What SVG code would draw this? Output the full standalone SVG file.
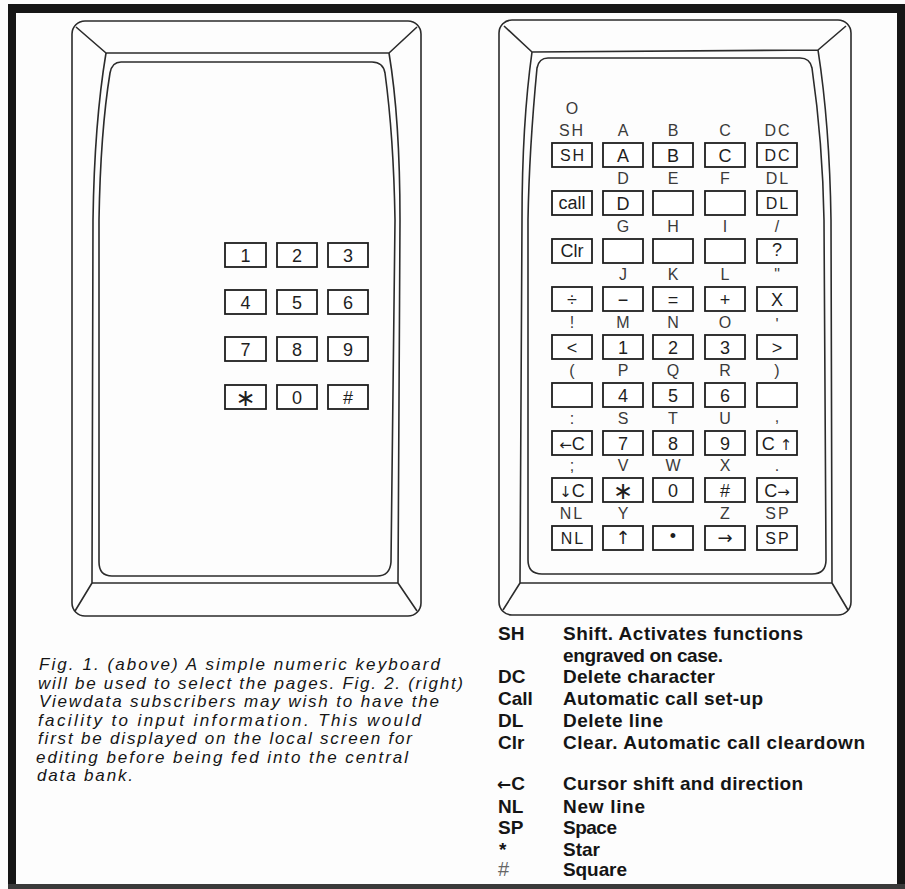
<svg xmlns="http://www.w3.org/2000/svg" width="905" height="889" viewBox="0 0 905 889">
<style>
.dev{fill:none;stroke:#2b2b2b;stroke-width:1.6;stroke-linejoin:round}
.key{fill:#fff;stroke:#1e1e1e;stroke-width:1.8}
.kt{font-family:"Liberation Sans",Arial,sans-serif;font-size:18px;text-anchor:middle;fill:#1e1e1e}
.ks{font-size:16px;letter-spacing:2px}
.ar{font-family:"DejaVu Sans",sans-serif}
.lb{font-family:"Liberation Sans",Arial,sans-serif;font-size:16px;text-anchor:middle;fill:#3a3a3a}
.ast{font-family:"DejaVu Sans",sans-serif;font-size:24px;text-anchor:middle;fill:#1e1e1e}
.cap{font-family:"Liberation Sans",Arial,sans-serif;font-style:italic;font-size:17px;fill:#151515}
.leg{font-family:"Liberation Sans",Arial,sans-serif;font-weight:bold;font-size:19px;fill:#151515}
</style>
<rect width="905" height="889" fill="#fdfdfd"/>
<g id="frame" fill="#161616">
<rect x="8" y="4" width="897" height="9"/>
<rect x="8" y="4" width="8" height="885"/>
<rect x="897" y="4" width="8" height="885"/>
<rect x="8" y="884" width="897" height="5" fill="#3a3a3a"/>
</g>
<g id="connectors"/>
<g id="fig1-device">
<rect class="dev" x="72" y="21" width="349" height="595" rx="13"/>
<path class="dev" d="M106,53 L389,53 M76,27 L106,53 M417,27 L389,53 M92,583 L398,583 M92,583 L75,611 M398,583 L417,611 M106,53 C99,95 94,150 93,220 L92,583 M389,53 C396,95 400,150 400,220 L398,583"/>
<path class="dev" d="M121,62 L372,62 Q383,62 385,73 C390,110 394,160 395,220 L391,562 Q390,576 377,576 L112,576 Q99,576 99,562 L99,220 C100,160 104,110 110,73 Q112,62 121,62 Z"/>
</g>
<g id="fig1-keys">
<g id="n1"><rect class="key" x="225" y="243" width="41" height="24"/><text class="kt" x="245.5" y="261.5">1</text></g>
<g id="n2"><rect class="key" x="277" y="243" width="40" height="24"/><text class="kt" x="297" y="261.5">2</text></g>
<g id="n3"><rect class="key" x="328" y="243" width="40" height="24"/><text class="kt" x="348" y="261.5">3</text></g>
<g id="n4"><rect class="key" x="225" y="290" width="41" height="24"/><text class="kt" x="245.5" y="308.5">4</text></g>
<g id="n5"><rect class="key" x="277" y="290" width="40" height="24"/><text class="kt" x="297" y="308.5">5</text></g>
<g id="n6"><rect class="key" x="328" y="290" width="40" height="24"/><text class="kt" x="348" y="308.5">6</text></g>
<g id="n7"><rect class="key" x="225" y="337" width="41" height="24"/><text class="kt" x="245.5" y="355.5">7</text></g>
<g id="n8"><rect class="key" x="277" y="337" width="40" height="24"/><text class="kt" x="297" y="355.5">8</text></g>
<g id="n9"><rect class="key" x="328" y="337" width="40" height="24"/><text class="kt" x="348" y="355.5">9</text></g>
<g id="nstar"><rect class="key" x="225" y="385" width="41" height="24"/><text class="ast" x="245.5" y="406">∗</text></g>
<g id="n0"><rect class="key" x="277" y="385" width="40" height="24"/><text class="kt" x="297" y="403.5">0</text></g>
<g id="nhash"><rect class="key" x="328" y="385" width="40" height="24"/><text class="kt" x="348" y="404" font-size="20">#</text></g>
</g>
<g id="fig2-device">
<rect class="dev" x="499" y="20" width="352" height="595" rx="13"/>
<path class="dev" d="M532,52 L818,50 M504,26 L532,52 M846,26 L818,50 M520,583 L832,583 M520,583 L503,610 M832,583 L848,610 M532,52 C526,95 522,150 522,220 L520,583 M818,50 C825,95 830,150 831,220 L832,583"/>
<path class="dev" d="M548,58 L800,58 Q810,58 812,68 C818,110 823,160 824,220 L826,560 Q826,574 812,574 L542,574 Q528,574 528,560 L528,220 C529,160 533,110 537,68 Q539,58 548,58 Z"/>
</g>
<g id="fig2-keys">
<text class="lb" x="572" y="114">O</text>
<g id="k-sh"><text class="lb" x="572" y="136" letter-spacing="2">SH</text><rect class="key" x="552" y="143" width="40" height="24"/><text class="kt ks" x="573" y="161">SH</text></g>
<g id="k-a"><text class="lb" x="623" y="136">A</text><rect class="key" x="603" y="143" width="40" height="24"/><text class="kt" x="623" y="161.5">A</text></g>
<g id="k-b"><text class="lb" x="673" y="136">B</text><rect class="key" x="653" y="143" width="40" height="24"/><text class="kt" x="673" y="161.5">B</text></g>
<g id="k-c"><text class="lb" x="725" y="136">C</text><rect class="key" x="705" y="143" width="40" height="24"/><text class="kt" x="725" y="161.5">C</text></g>
<g id="k-dc"><text class="lb" x="778" y="136" letter-spacing="2">DC</text><rect class="key" x="757" y="143" width="40" height="24"/><text class="kt ks" x="778" y="161">DC</text></g>

<g id="k-call"><rect class="key" x="552" y="191" width="40" height="24"/><text class="kt" x="572" y="209" font-size="16">call</text></g>
<g id="k-d"><text class="lb" x="623" y="184">D</text><rect class="key" x="603" y="191" width="40" height="24"/><text class="kt" x="623" y="209.5">D</text></g>
<g id="k-e"><text class="lb" x="673" y="184">E</text><rect class="key" x="653" y="191" width="40" height="24"/></g>
<g id="k-f"><text class="lb" x="725" y="184">F</text><rect class="key" x="705" y="191" width="40" height="24"/></g>
<g id="k-dl"><text class="lb" x="778" y="184" letter-spacing="2">DL</text><rect class="key" x="757" y="191" width="40" height="24"/><text class="kt ks" x="778" y="209">DL</text></g>

<g id="k-clr"><rect class="key" x="552" y="239" width="40" height="24"/><text class="kt" x="572" y="257" font-size="16">Clr</text></g>
<g id="k-g"><text class="lb" x="623" y="232">G</text><rect class="key" x="603" y="239" width="40" height="24"/></g>
<g id="k-h"><text class="lb" x="673" y="232">H</text><rect class="key" x="653" y="239" width="40" height="24"/></g>
<g id="k-i"><text class="lb" x="725" y="232">I</text><rect class="key" x="705" y="239" width="40" height="24"/></g>
<g id="k-q"><text class="lb" x="777" y="232">/</text><rect class="key" x="757" y="239" width="40" height="24"/><text class="kt" x="777" y="256" font-size="15">?</text></g>

<g id="k-div"><rect class="key" x="552" y="287" width="40" height="24"/><text class="kt" x="572" y="305.5">÷</text></g>
<g id="k-j"><text class="lb" x="623" y="280">J</text><rect class="key" x="603" y="287" width="40" height="24"/><text class="kt" x="623" y="305.5">−</text></g>
<g id="k-k"><text class="lb" x="673" y="280">K</text><rect class="key" x="653" y="287" width="40" height="24"/><text class="kt" x="673" y="305.5">=</text></g>
<g id="k-l"><text class="lb" x="725" y="280">L</text><rect class="key" x="705" y="287" width="40" height="24"/><text class="kt" x="725" y="305.5">+</text></g>
<g id="k-x"><text class="lb" x="777" y="280" font-size="12">"</text><rect class="key" x="757" y="287" width="40" height="24"/><text class="kt" x="777" y="305.5">X</text></g>

<g id="k-lt"><text class="lb" x="572" y="328">!</text><rect class="key" x="552" y="335" width="40" height="24"/><text class="kt" x="572" y="353.5">&lt;</text></g>
<g id="k-m"><text class="lb" x="623" y="328">M</text><rect class="key" x="603" y="335" width="40" height="24"/><text class="kt" x="623" y="353.5">1</text></g>
<g id="k-n"><text class="lb" x="673" y="328">N</text><rect class="key" x="653" y="335" width="40" height="24"/><text class="kt" x="673" y="353.5">2</text></g>
<g id="k-o"><text class="lb" x="725" y="328">O</text><rect class="key" x="705" y="335" width="40" height="24"/><text class="kt" x="725" y="353.5">3</text></g>
<g id="k-gt"><text class="lb" x="777" y="330" font-size="12">'</text><rect class="key" x="757" y="335" width="40" height="24"/><text class="kt" x="777" y="353.5">&gt;</text></g>

<g id="k-lp"><text class="lb" x="572" y="376">(</text><rect class="key" x="552" y="383" width="40" height="24"/></g>
<g id="k-p"><text class="lb" x="623" y="376">P</text><rect class="key" x="603" y="383" width="40" height="24"/><text class="kt" x="623" y="401.5">4</text></g>
<g id="k-qq"><text class="lb" x="673" y="376">Q</text><rect class="key" x="653" y="383" width="40" height="24"/><text class="kt" x="673" y="401.5">5</text></g>
<g id="k-r"><text class="lb" x="725" y="376">R</text><rect class="key" x="705" y="383" width="40" height="24"/><text class="kt" x="725" y="401.5">6</text></g>
<g id="k-rp"><text class="lb" x="777" y="376">)</text><rect class="key" x="757" y="383" width="40" height="24"/></g>

<g id="k-cl"><text class="lb" x="572" y="424">:</text><rect class="key" x="552" y="431" width="40" height="24"/><text class="kt" x="572" y="449.5"><tspan class="ar" font-size="15">←</tspan>C</text></g>
<g id="k-s"><text class="lb" x="623" y="424">S</text><rect class="key" x="603" y="431" width="40" height="24"/><text class="kt" x="623" y="449.5">7</text></g>
<g id="k-t"><text class="lb" x="673" y="424">T</text><rect class="key" x="653" y="431" width="40" height="24"/><text class="kt" x="673" y="449.5">8</text></g>
<g id="k-u"><text class="lb" x="725" y="424">U</text><rect class="key" x="705" y="431" width="40" height="24"/><text class="kt" x="725" y="449.5">9</text></g>
<g id="k-cu"><text class="lb" x="777" y="422">,</text><rect class="key" x="757" y="431" width="40" height="24"/><text class="kt" x="777" y="449.5">C <tspan class="ar" font-size="15">↑</tspan></text></g>

<g id="k-cd"><text class="lb" x="572" y="471">;</text><rect class="key" x="552" y="478" width="40" height="24"/><text class="kt" x="572" y="496.5"><tspan class="ar" font-size="15">↓</tspan>C</text></g>
<g id="k-v"><text class="lb" x="623" y="471">V</text><rect class="key" x="603" y="478" width="40" height="24"/><text class="ast" x="623" y="499">∗</text></g>
<g id="k-w"><text class="lb" x="673" y="471">W</text><rect class="key" x="653" y="478" width="40" height="24"/><text class="kt" x="673" y="496.5">0</text></g>
<g id="k-xx"><text class="lb" x="725" y="471">X</text><rect class="key" x="705" y="478" width="40" height="24"/><text class="kt" x="725" y="497" font-size="20">#</text></g>
<g id="k-cr"><text class="lb" x="777" y="471">.</text><rect class="key" x="757" y="478" width="40" height="24"/><text class="kt" x="777" y="496.5">C<tspan class="ar" font-size="15">→</tspan></text></g>

<g id="k-nl"><text class="lb" x="572" y="519" letter-spacing="2">NL</text><rect class="key" x="552" y="526" width="40" height="24"/><text class="kt ks" x="573" y="544">NL</text></g>
<g id="k-y"><text class="lb" x="623" y="519">Y</text><rect class="key" x="603" y="526" width="40" height="24"/><text class="kt ar" x="623" y="544" font-size="16">↑</text></g>
<g id="k-dot"><rect class="key" x="653" y="526" width="40" height="24"/><text class="kt" x="673" y="542" font-size="10">•</text></g>
<g id="k-z"><text class="lb" x="725" y="519">Z</text><rect class="key" x="705" y="526" width="40" height="24"/><text class="kt ar" x="725" y="544" font-size="18">→</text></g>
<g id="k-sp"><text class="lb" x="778" y="519" letter-spacing="2">SP</text><rect class="key" x="757" y="526" width="40" height="24"/><text class="kt ks" x="778" y="544">SP</text></g>
</g>
<g id="caption">
<text class="cap" x="39" y="670" textLength="401" lengthAdjust="spacing">Fig. 1. (above) A simple numeric keyboard</text>
<text class="cap" x="38" y="688.5" textLength="425" lengthAdjust="spacing">will be used to select the pages. Fig. 2. (right)</text>
<text class="cap" x="39" y="707" textLength="400" lengthAdjust="spacing">Viewdata subscribers may wish to have the</text>
<text class="cap" x="38" y="725.5" textLength="383" lengthAdjust="spacing">facility to input information. This would</text>
<text class="cap" x="38" y="744" textLength="374" lengthAdjust="spacing">first be displayed on the local screen for</text>
<text class="cap" x="36" y="762.5" textLength="372" lengthAdjust="spacing">editing before being fed into the central</text>
<text class="cap" x="37" y="781" textLength="96" lengthAdjust="spacing">data bank.</text>
</g>
<g id="legend">
<text class="leg" x="498" y="640">SH</text><text class="leg" x="563" y="640" textLength="240" lengthAdjust="spacing">Shift. Activates functions</text>
<text class="leg" x="563" y="662" textLength="160" lengthAdjust="spacing">engraved on case.</text>
<text class="leg" x="498" y="683">DC</text><text class="leg" x="563" y="683" textLength="152" lengthAdjust="spacing">Delete character</text>
<text class="leg" x="498" y="705" fill="#444">Call</text><text class="leg" x="563" y="705" textLength="200" lengthAdjust="spacing">Automatic call set-up</text>
<text class="leg" x="498" y="727">DL</text><text class="leg" x="563" y="727" textLength="100" lengthAdjust="spacing">Delete line</text>
<text class="leg" x="498" y="749">Clr</text><text class="leg" x="563" y="749" textLength="302" lengthAdjust="spacing">Clear. Automatic call cleardown</text>
<text class="leg" x="497" y="790"><tspan font-family="DejaVu Sans, sans-serif" font-size="17">←</tspan>C</text><text class="leg" x="563" y="790" textLength="240" lengthAdjust="spacing">Cursor shift and direction</text>
<text class="leg" x="498" y="813">NL</text><text class="leg" x="563" y="813" textLength="82" lengthAdjust="spacing">New line</text>
<text class="leg" x="498" y="834">SP</text><text class="leg" x="563" y="834" textLength="54" lengthAdjust="spacing">Space</text>
<text class="leg" x="499" y="856">*</text><text class="leg" x="563" y="856" textLength="37" lengthAdjust="spacing">Star</text>
<text x="498" y="876" font-family="Liberation Sans, Arial, sans-serif" font-size="20" fill="#666">#</text><text class="leg" x="563" y="876" textLength="64" lengthAdjust="spacing">Square</text>
</g>
</svg>
